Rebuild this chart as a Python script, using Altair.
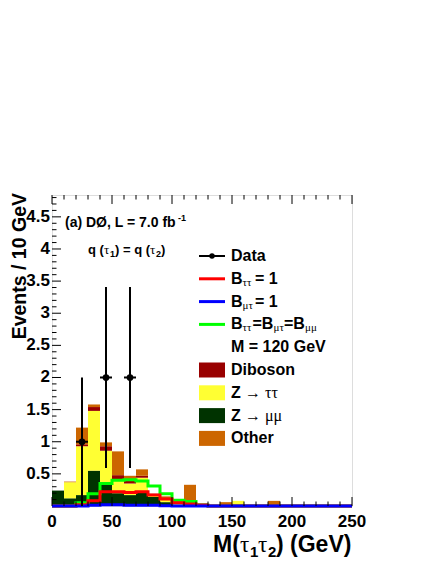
import altair as alt
import pandas as pd
import numpy as np

# ---------------- data ----------------
bin_lo = list(range(0, 250, 10))          # 25 bins of 10 GeV
zmumu   = [0.24, 0.12, 0.17, 0.55, 0.36, 0.20, 0.17, 0.22, 0.14, 0.06, 0.02, 0.01, 0.00,
           0, 0, 0, 0, 0, 0, 0, 0, 0, 0, 0, 0]
ztautau = [0.00, 0.25, 0.76, 0.93, 0.50, 0.22, 0.18, 0.22, 0.04, 0.04, 0.04, 0.04, 0.01,
           0, 0, 0.08, 0, 0, 0, 0, 0, 0, 0, 0, 0]
diboson = [0.00, 0.00, 0.03, 0.06, 0.07, 0.06, 0.04, 0.03, 0.01, 0.01, 0.01, 0.01, 0.03,
           0, 0, 0, 0, 0, 0, 0, 0, 0, 0, 0, 0]
other   = [0.00, 0.01, 0.26, 0.04, 0.06, 0.37, 0.08, 0.10, 0.00, 0.04, 0.00, 0.27, 0.00,
           0, 0.06, 0, 0, 0, 0.08, 0, 0, 0, 0, 0, 0]

sig_tautau = [0, 0, 0.02, 0.08, 0.22, 0.22, 0.21, 0.22, 0.17, 0.11, 0.05, 0.03, 0.01,
              0, 0, 0, 0, 0, 0, 0, 0, 0, 0, 0, 0]
sig_mutau  = [0, 0, 0.00, 0.01, 0.02, 0.02, 0.01, 0.01, 0.01, 0.005, 0, 0, 0,
              0, 0, 0, 0, 0, 0, 0, 0, 0, 0, 0, 0]
sig_equal  = [0, 0, 0.05, 0.19, 0.35, 0.40, 0.41, 0.39, 0.31, 0.19, 0.09, 0.07, 0.01,
              0, 0, 0, 0, 0, 0, 0, 0, 0, 0, 0, 0]

data_x = [25, 45, 65]
data_y = [1, 2, 2]
data_err = [1.0, 1.41, 1.41]

x_ticklabels = [0, 50, 100, 150, 200, 250]
y_ticklabels = [0.5, 1, 1.5, 2, 2.5, 3, 3.5, 4, 4.5]

bkg_names = ["Z → μμ", "Z → ττ", "Diboson", "Other"]
bkg_colors = ["#003300", "#ffff33", "#990000", "#cc6600"]
sig_names = ["Bττ=Bμτ=Bμμ", "Bττ = 1", "Bμτ = 1"]
sig_colors = ["#00ff00", "#ff0000", "#0000ff"]

# ---------------- geometry ----------------
W, H = 300, 311
XMAX, YMAX = 250, 4.84
xs = alt.Scale(domain=[0, XMAX], nice=False, zero=False)
ys = alt.Scale(domain=[0, YMAX], nice=False, zero=False)
SANS = "Liberation Sans"
SERIF = "Liberation Serif"

# stacked background
rows = []
cum = np.zeros(len(bin_lo))
for name, vals in zip(bkg_names, [zmumu, ztautau, diboson, other]):
    v = np.array(vals, dtype=float)
    for i, lo in enumerate(bin_lo):
        if v[i] > 0:
            rows.append(dict(lo=lo, hi=lo + 10, y0=cum[i], y1=cum[i] + v[i], comp=name))
    cum = cum + v
bkg_df = pd.DataFrame(rows)

bars = alt.Chart(bkg_df).mark_rect(stroke=None).encode(
    x=alt.X("lo:Q", scale=xs, axis=None),
    x2="hi:Q",
    y=alt.Y("y0:Q", scale=ys, axis=None),
    y2="y1:Q",
    color=alt.Color("comp:N", scale=alt.Scale(domain=bkg_names, range=bkg_colors), legend=None),
)

# signal step lines
srows = []
for name, vals in zip(sig_names, [sig_equal, sig_tautau, sig_mutau]):
    for i, lo in enumerate(bin_lo):
        srows.append(dict(x=lo, y=vals[i], s=name))
    srows.append(dict(x=XMAX, y=vals[-1], s=name))
sig_df = pd.DataFrame(srows)
sig_layers = []
for name, col in zip(sig_names, sig_colors):
    sig_layers.append(
        alt.Chart(sig_df[sig_df.s == name]).mark_line(
            interpolate="step-after", strokeWidth=3, color=col, clip=False
        ).encode(x=alt.X("x:Q", scale=xs, axis=None), y=alt.Y("y:Q", scale=ys, axis=None))
    )

# data points
ddf = pd.DataFrame(dict(x=data_x, y=data_y, err=data_err))
ddf["lo"] = ddf.y - ddf.err
ddf["hi"] = ddf.y + ddf.err
ddf["xl"] = ddf.x - 5
ddf["xh"] = ddf.x + 5
verr = alt.Chart(ddf).mark_rule(color="black", strokeWidth=2).encode(
    x=alt.X("x:Q", scale=xs, axis=None), y=alt.Y("lo:Q", scale=ys, axis=None), y2="hi:Q")
herr = alt.Chart(ddf).mark_rule(color="black", strokeWidth=2).encode(
    x=alt.X("xl:Q", scale=xs, axis=None), x2="xh:Q", y=alt.Y("y:Q", scale=ys, axis=None))
pts = alt.Chart(ddf).mark_point(filled=True, color="black", size=45, opacity=1).encode(
    x=alt.X("x:Q", scale=xs, axis=None), y=alt.Y("y:Q", scale=ys, axis=None))

# inward ticks
xt = pd.DataFrame(dict(v=list(range(0, XMAX + 1, 10))))
xt["major"] = xt.v % 50 == 0
yt = pd.DataFrame(dict(v=np.round(np.arange(0.1, YMAX, 0.1), 2)))
yt["major"] = np.isclose((yt.v * 2) % 1, 0) | np.isclose((yt.v * 2) % 1, 1)

def xticks(df, y0, y1):
    return alt.Chart(df).mark_rule(color="black", strokeWidth=1).encode(
        x=alt.X("v:Q", scale=xs, axis=None), y=alt.value(y0), y2=alt.value(y1))

def yticks(df, x0, x1):
    return alt.Chart(df).mark_rule(color="black", strokeWidth=1).encode(
        y=alt.Y("v:Q", scale=ys, axis=None), x=alt.value(x0), x2=alt.value(x1))

tick_layers = [
    xticks(xt[xt.major], H, H - 9), xticks(xt[~xt.major], H, H - 4.5),
    xticks(xt[xt.major], 0, 9), xticks(xt[~xt.major], 0, 4.5),
    yticks(yt[yt.major], 0, 9), yticks(yt[~yt.major], 0, 4.5),
]

# tick labels (placed through the scales)
xlab = alt.Chart(pd.DataFrame(dict(v=x_ticklabels))).mark_text(
    font="Liberation Sans", fontSize=17, fontWeight="bold", baseline="middle",
    align="center", color="black", clip=False).encode(
    x=alt.X("v:Q", scale=xs, axis=None), y=alt.value(H + 16),
    text=alt.Text("v:Q", format="~g"))
ylab = alt.Chart(pd.DataFrame(dict(v=y_ticklabels))).mark_text(
    font="Liberation Sans", fontSize=17, fontWeight="bold", baseline="middle",
    align="right", color="black", clip=False).encode(
    y=alt.Y("v:Q", scale=ys, axis=None), x=alt.value(-2),
    text=alt.Text("v:Q", format="~g"))

# ---------------- text helpers ----------------
def txt(items, font, size, weight="bold", align="left", baseline="middle", angle=0):
    df = pd.DataFrame(items, columns=["t", "px", "py"])
    return alt.Chart(df).mark_text(
        font=font, fontSize=size, fontWeight=weight, align=align, baseline=baseline,
        angle=angle, color="black", clip=False
    ).encode(x=alt.X("px:Q", scale=None, axis=None), y=alt.Y("py:Q", scale=None, axis=None),
             text="t:N")

# legend
LX0, LX1, TX = 147, 173, 179
ry = [61 + 22.8 * i for i in range(9)]

leg_lines = pd.DataFrame(dict(
    a=[LX0] * 4, b=[LX1] * 4, py=[ry[0], ry[1], ry[2], ry[3]],
    c=["black", "#ff0000", "#0000ff", "#00ff00"]))
leg_line_layers = []
for i, r in leg_lines.iterrows():
    leg_line_layers.append(
        alt.Chart(leg_lines.iloc[[i]]).mark_rule(color=r.c, strokeWidth=2 if i == 0 else 3).encode(
            x=alt.X("a:Q", scale=None, axis=None), x2="b:Q", y=alt.Y("py:Q", scale=None, axis=None)))
leg_dot = alt.Chart(pd.DataFrame(dict(px=[(LX0 + LX1) / 2], py=[ry[0]]))).mark_point(
    filled=True, color="black", size=30, opacity=1).encode(
    x=alt.X("px:Q", scale=None, axis=None), y=alt.Y("py:Q", scale=None, axis=None))

box_df = pd.DataFrame(dict(a=[LX0] * 4, b=[LX1] * 4,
                           t=[ry[5] - 7.5, ry[6] - 7.5, ry[7] - 7.5, ry[8] - 7.5],
                           u=[ry[5] + 7.5, ry[6] + 7.5, ry[7] + 7.5, ry[8] + 7.5],
                           comp=["Diboson", "Z → ττ", "Z → μμ", "Other"]))
leg_boxes = alt.Chart(box_df).mark_rect().encode(
    x=alt.X("a:Q", scale=None, axis=None), x2="b:Q",
    y=alt.Y("t:Q", scale=None, axis=None), y2="u:Q",
    color=alt.Color("comp:N", scale=alt.Scale(domain=bkg_names, range=bkg_colors), legend=None))

leg_bold = txt([
    ("Data", TX, ry[0]),
    ("B", TX, ry[1]), ("= 1", TX + 24, ry[1]),
    ("B", TX, ry[2]), ("= 1", TX + 24, ry[2]),
    ("B", TX, ry[3]), ("=B", TX + 21.5, ry[3]), ("=B", TX + 53, ry[3]),
    ("M = 120 GeV", TX, ry[4]),
    ("Diboson", TX, ry[5]),
    ("Z", TX, ry[6]), ("Z", TX, ry[7]),
    ("Other", TX, ry[8]),
], SANS, 16)
leg_sub = txt([
    ("ττ", TX + 11.6, ry[1] + 4), ("μτ", TX + 11.6, ry[2] + 4),
    ("ττ", TX + 11.6, ry[3] + 4), ("μτ", TX + 42.5, ry[3] + 4), ("μμ", TX + 74, ry[3] + 4),
], SERIF, 11, weight="normal")
leg_greek = txt([
    ("→ ττ", TX + 14, ry[6]), ("→ μμ", TX + 14, ry[7]),
], SERIF, 16, weight="normal")

# annotation
ann_bold1 = txt([("(a) DØ, L = 7.0 fb", 13, 28)], SANS, 14)
ann_bold2 = txt([("q (", 36, 55), (") = q (", 63, 55), (")", 109, 55)], SANS, 13)
ann_small = txt([("-1", 126, 23), ("1", 58, 59), ("2", 104, 59)], SANS, 9)
ann_greek = txt([("τ", 52, 55), ("τ", 98, 55)], SERIF, 13, weight="normal")

# axis titles
xt_bold = txt([("M(", 161, 350), (") (GeV)", 224, 350)], SANS, 23)
xt_greek = txt([("τ", 188, 350), ("τ", 206, 350)], SERIF, 23, weight="normal")
xt_sub = txt([("1", 198, 357), ("2", 216, 357)], SANS, 15)
yt_title = txt([("Events / 10 GeV", -26, -2)], SANS, 19.5, align="right",
               baseline="alphabetic", angle=270)

chart = alt.layer(
    bars, *sig_layers, verr, herr, pts, *tick_layers, xlab, ylab,
    *leg_line_layers, leg_dot, leg_boxes, leg_bold, leg_sub, leg_greek,
    ann_bold1, ann_bold2, ann_small, ann_greek, xt_bold, xt_greek, xt_sub, yt_title,
).resolve_scale(color="independent").properties(
    width=W, height=H,
    autosize=alt.AutoSizeParams(type="none"),
    padding={"left": 44, "top": 187, "right": 76, "bottom": 55},
).configure_view(stroke="black", strokeWidth=1).configure(background="white")

chart.save("out.html", embed_options={"renderer": "svg", "actions": False})
